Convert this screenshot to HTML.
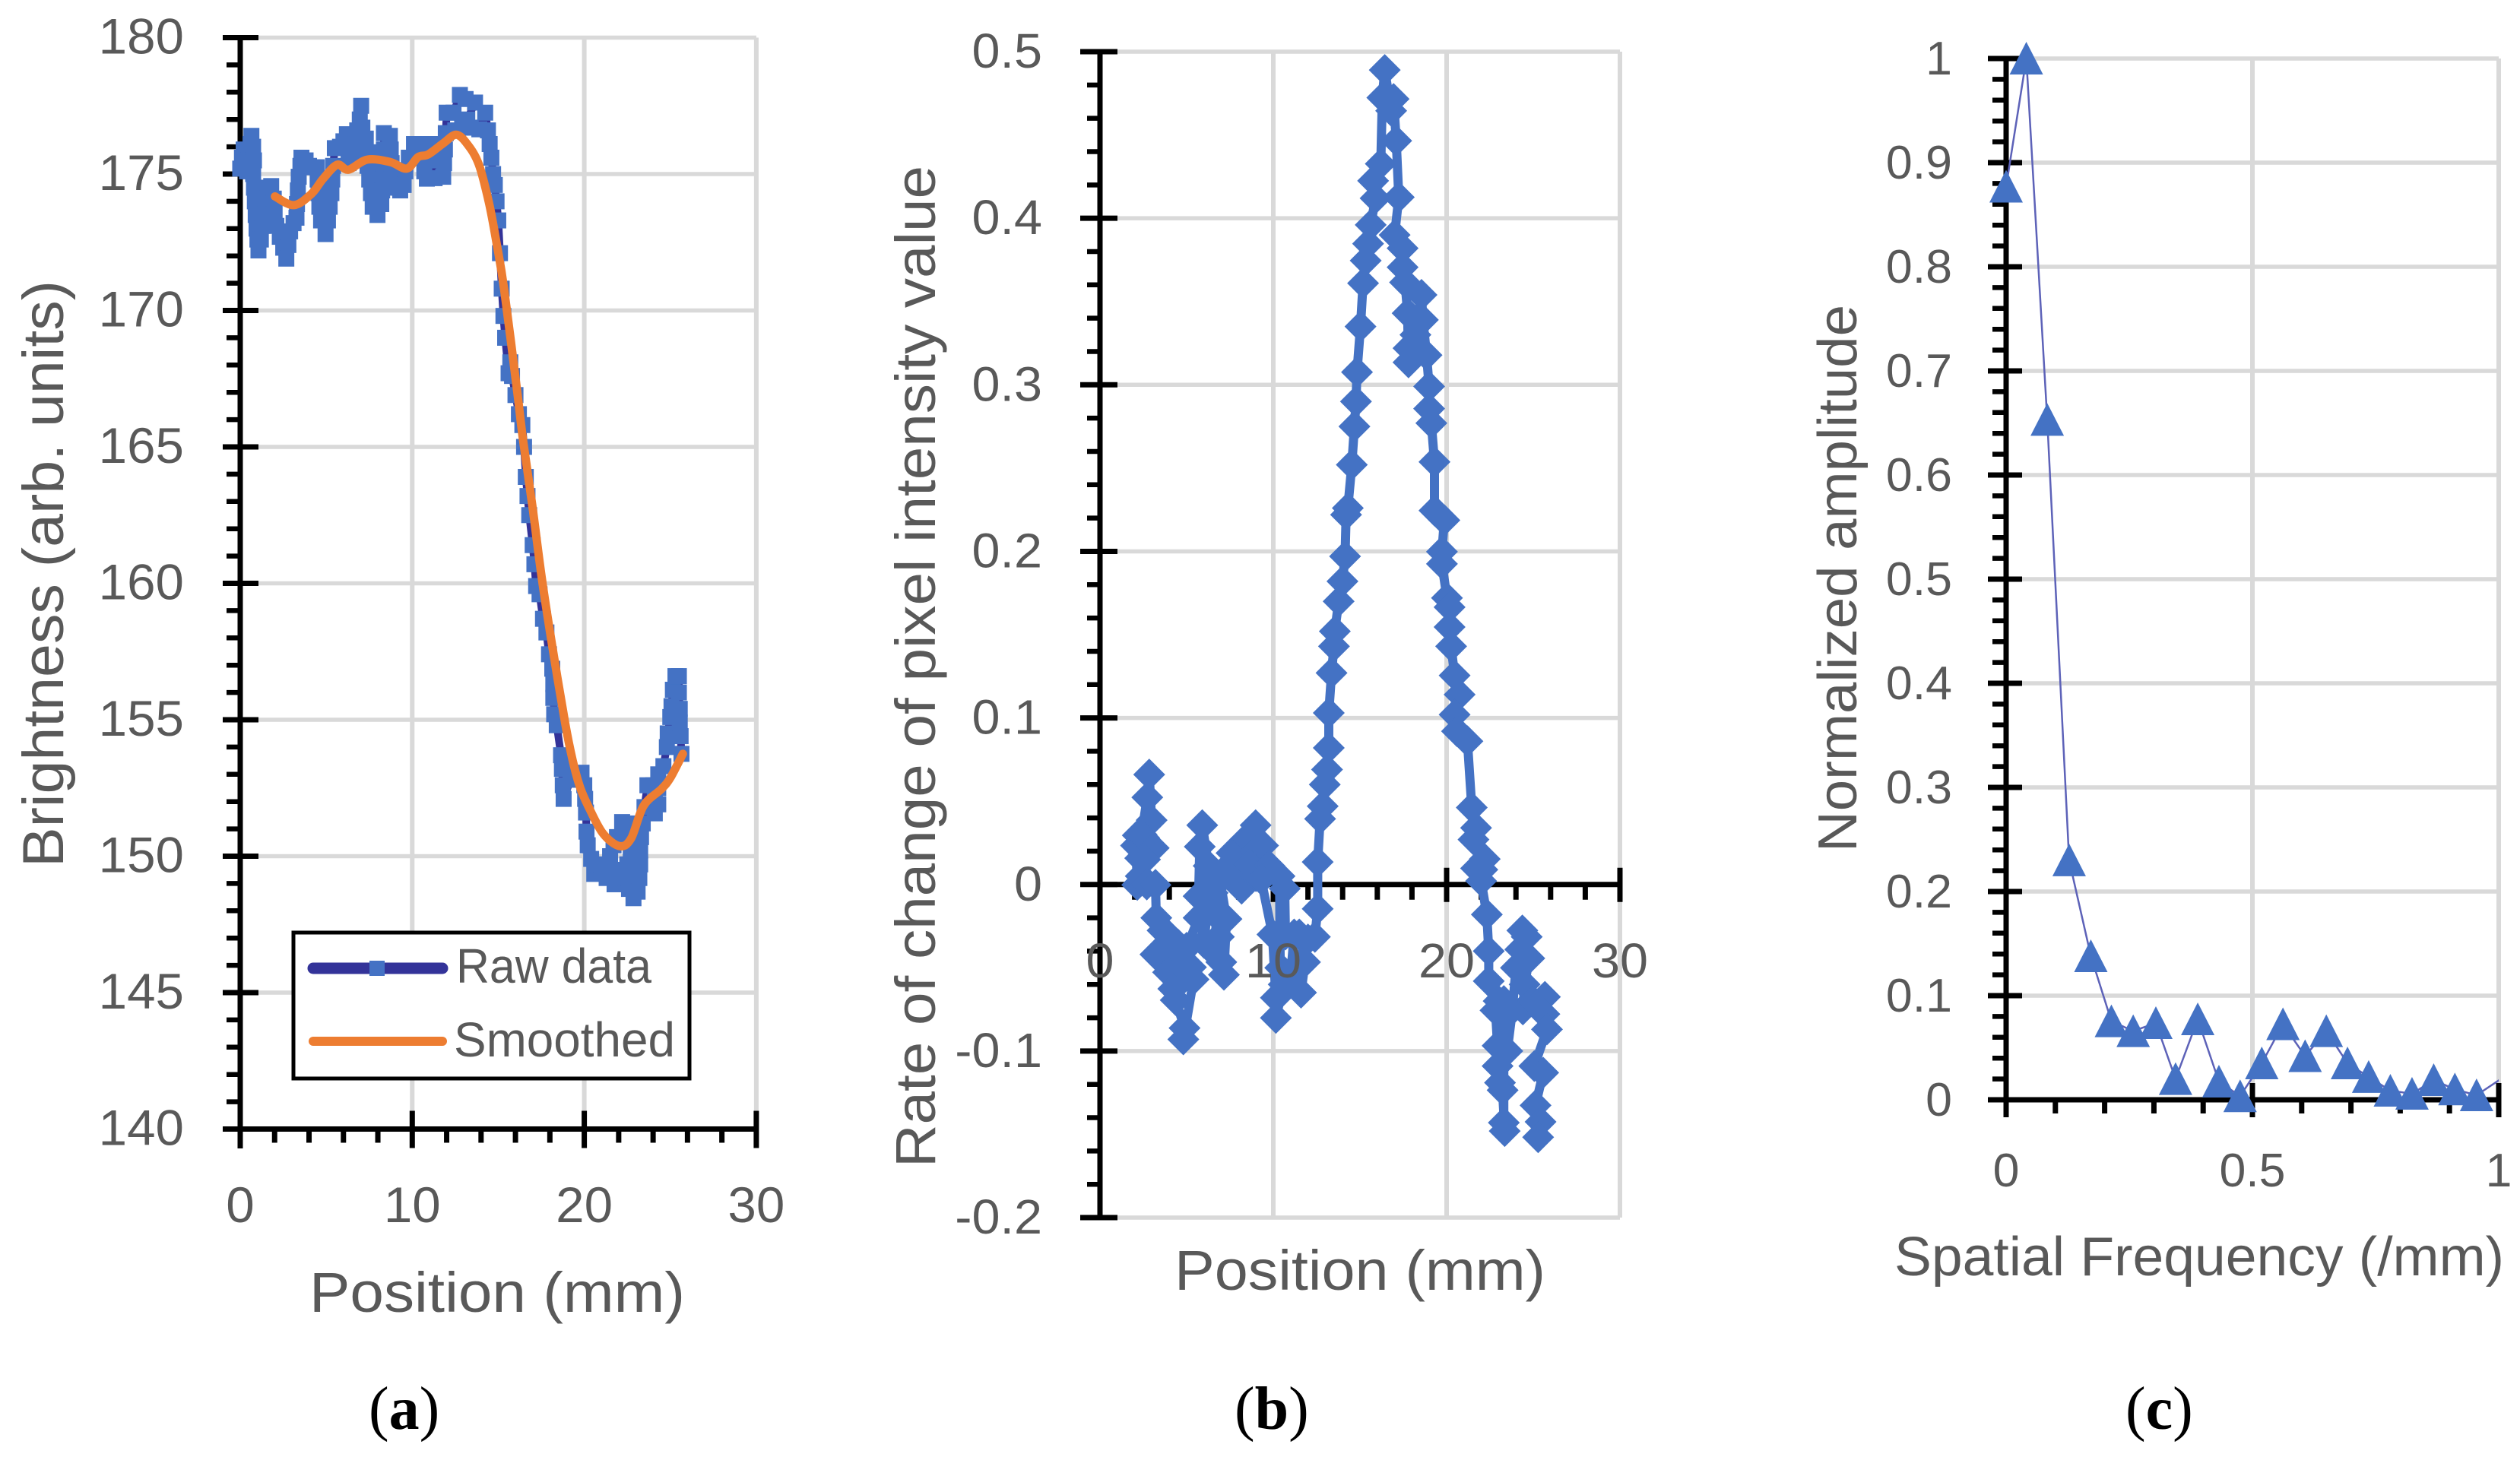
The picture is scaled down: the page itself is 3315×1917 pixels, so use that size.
<!DOCTYPE html>
<html lang="en">
<head>
<meta charset="utf-8">
<title>Brightness, rate of change and spatial frequency charts</title>
<style>
html,body{margin:0;padding:0;background:#fff;}
svg{display:block;}
text{font-family:"Liberation Sans",sans-serif;fill:#595959;}
.cap{font-family:"Liberation Serif",serif;fill:#000;font-size:80px;}
.cap .b{font-weight:bold;}
</style>
</head>
<body>
<svg id="figure" xmlns="http://www.w3.org/2000/svg" width="3315" height="1917" viewBox="0 0 3315 1917">
<rect x="0" y="0" width="3315" height="1917" fill="#fff"/>
<defs><clipPath id="clip-c"><rect x="2600" y="40" width="687" height="1440"/></clipPath></defs>
<g id="chart-a"></g>
<g id="chart-b"></g>
<g id="chart-c"></g>

<text class="title" data-len="772" transform="translate(83,1141) rotate(-90)" font-size="76">Brightness (arb. units)</text>
<text class="title" data-len="494" x="407" y="1726" font-size="74">Position (mm)</text>

<text class="title" data-len="1318" transform="translate(1230,1536) rotate(-90)" font-size="74">Rate of change of pixel intensity value</text>
<text class="title" data-len="488" x="1545" y="1697" font-size="74">Position (mm)</text>

<text class="title" data-len="720" transform="translate(2442,1121) rotate(-90)" font-size="72">Normalized amplitude</text>
<text class="title" data-len="802" x="2492" y="1678" font-size="72">Spatial Frequency (/mm)</text>

<g>
  <rect x="386" y="1227" width="521" height="192" fill="#fff" stroke="#000" stroke-width="5"/>
  <line x1="412" y1="1274" x2="582" y2="1274" stroke="#333399" stroke-width="15" stroke-linecap="round"/>
  <rect x="486" y="1264" width="20" height="20" fill="#4472c4"/>
  <text class="title" data-len="257" x="600" y="1293" font-size="64">Raw data</text>
  <line x1="412" y1="1370" x2="582" y2="1370" stroke="#ed7d31" stroke-width="12" stroke-linecap="round"/>
  <text class="title" data-len="291" x="597" y="1390" font-size="64">Smoothed</text>
</g>

<text class="cap" x="485" y="1880">(<tspan class="b">a</tspan>)</text>
<text class="cap" x="1624" y="1880">(<tspan class="b">b</tspan>)</text>
<text class="cap" x="2796" y="1880">(<tspan class="b">c</tspan>)</text>
</svg>
<script>
/* ---------- Chart (a) data ---------- */
const brightnessXTicks = [0, 10, 20, 30];
const brightnessYTicks = [140, 145, 150, 155, 160, 165, 170, 175, 180];
const rawPositions = [
0,0.1,0.2,0.3,0.4,0.5,0.6,0.65,0.75,0.8,
0.75,0.8,0.85,0.9,0.95,1,1.06,1.2,1.3,1.35,
1.45,1.6,1.8,1.95,2,2.1,2.3,2.5,2.68,2.8,
2.9,3.1,3.27,3.3,3.35,3.4,3.5,3.56,3.8,4,
4.2,4.45,4.5,4.55,4.6,4.7,4.96,5.1,5.2,5.3,
5.35,5.4,5.5,5.8,6,6.2,6.4,6.3,6.6,6.7,
6.8,6.95,7.03,7.1,7.3,7.5,7.4,7.5,7.6,7.7,
7.98,8.2,8.25,8.3,8.3,8.35,8.35,8.7,8.75,8.8,
8.9,9.1,9.3,9.5,9.6,9.8,10.1,10.5,10.6,10.7,
10.85,11.3,11.1,11.08,11.5,11.6,11.8,11.85,11.9,11.95,
12,12.4,12.77,13.1,13.65,13.2,12.5,12.9,13.4,13.9,
14.24,14.4,14.5,14.6,14.7,14.8,14.9,15,15.1,15.2,
15.3,15.4,15.6,15.7,15.8,16,16.2,16.4,16.5,16.6,
16.7,16.8,17,17.1,17.2,17.4,17.6,17.8,17.95,18.14,
18.2,18.2,18.25,18.4,18.65,18.7,18.75,18.8,19.2,19.6,
19.84,20,20.05,20.1,20.13,20.2,20.4,20.58,20.8,21,
21.3,21.76,21.6,21.5,21.7,21.9,22.2,22.5,22.6,22.7,
22.5,22.4,22.6,22.86,23.1,23.2,23.25,23.25,23.3,23.4,
23.5,23.67,24,24.1,24.1,24.3,24.3,24.3,24.6,24.8,
24.85,25,25.07,25.15,25.3,25.5,25.5,25.55,25.55,25.6,
25.65];
const rawBrightness = [
175.2,175.6,175.9,175.5,175.1,175.6,176.1,176.4,176,175.5,
175,174.5,174,173.5,173,172.6,172.2,172.6,173.1,173.6,
174.1,174.5,174.56,174.1,173.6,173.1,172.7,172.3,171.9,172.4,
172.9,173.2,173.4,173.9,174.4,174.9,175.3,175.6,175.5,175.3,
175.25,175.25,174.8,174.3,173.8,173.3,172.8,173.3,173.8,174.3,
174.8,175.3,175.95,176,176.2,176.46,175.9,175.4,175.6,176.1,
176.6,177,177.5,176.7,176.3,175.8,175.3,174.8,174.3,173.8,
173.5,173.9,174.4,174.9,175.4,175.9,176.5,176.4,175.9,175.4,
174.9,174.5,174.4,174.6,175.1,175.6,176.1,176.1,175.6,175.1,
174.83,174.85,175.5,176.1,176.1,175.6,174.9,175.4,175.9,176.5,
177.25,177.25,177.9,177.75,177.62,177,176.6,176.7,176.7,176.64,
177.25,176.6,176.1,175.6,175,174.6,174,173.3,172.1,170.8,
169.8,169,167.7,168.1,167.6,166.9,166.2,165.8,165,163.9,
163.2,162.5,161.4,160.7,159.9,159.6,158.7,158.2,157.4,156.87,
156.3,155.8,155.2,154.8,153.7,153.2,152.6,152.1,152.8,153,
153.06,152.6,152.1,151.6,150.9,150.4,149.9,149.35,149.7,149.4,
149.2,148.97,149.5,150,150.4,150.7,151.25,151.2,150.7,150.2,
149.7,149.2,148.8,148.46,148.7,149.2,149.7,150.2,150.7,151.2,
151.8,152.6,152.6,152.1,151.57,151.9,152.5,153,153.3,154,
154.5,155.1,155.5,156.1,156.6,156.6,156,155.4,154.9,154.4,
153.75];
const smoothPositions = [2.02,3.12,4.15,4.82,5.63,6.29,7.39,8.72,9.68,10.34,10.93,11.81,12.55,13.21,13.87,14.46,14.9,15.34,16.09,16.45,16.97,17.55,18.14,18.88,19.33,19.77,20.28,21.09,22.05,22.72,23.45,24.48,25,25.73];
const smoothBrightness = [174.18,173.86,174.28,174.83,175.34,175.16,175.53,175.44,175.2,175.62,175.72,176.13,176.44,176.09,175.35,173.95,172.47,170.79,167.09,165.2,162.9,160.1,157.7,154.9,153.5,152.5,151.77,150.83,150.37,150.65,151.85,152.46,152.87,153.75];

/* ---------- Chart (b) data ---------- */
const rateXTicks = [0, 10, 20, 30];
const rateYTicks = [-0.2, -0.1, 0, 0.1, 0.2, 0.3, 0.4, 0.5];
const ratePositions = [
2.15,2.08,2.18,2.32,2.4,2.73,2.84,2.98,2.55,3.1,
2.6,2.35,2.7,3.2,3.25,3.61,3.2,3.42,3.7,4,
4.5,4.37,3.93,4.7,5.25,4.23,4.37,4.88,4.81,5.4,
5,5.69,5.69,5.76,5.9,6.27,5.9,6.2,6,6.5,
6.78,6.5,6.86,7,7.15,7.3,6.9,7.59,7.59,7.3,
7.9,8.17,8.47,8.98,9,8.6,9,9.41,9.78,9.3,
9.95,10.15,10.15,10.6,10.4,10.36,10.66,10.7,11.2,11,
11.6,11.83,11.5,12,12.4,12.56,12.56,12.7,12.85,12.97,
13.1,13.2,13.2,13.36,13.5,13.55,13.77,13.99,14.14,14.2,
14.3,14.53,14.68,14.77,14.83,15.03,15.18,15.33,15.47,15.62,
15.9,15.76,16.2,16.29,16.43,16.8,16.94,17.09,17.24,17,
17.46,17.46,17.6,17.75,17.8,17.8,18.2,18.55,18.63,18.84,
18.99,18.99,19.12,19.3,19.3,19.87,19.73,19.73,20.02,20.17,
20.17,20.26,20.46,20.75,20.46,20.6,21.2,21.45,21.7,21.55,
22.2,21.7,22.06,21.99,22.32,22.43,22.43,22.82,22.94,22.94,
23.08,23.23,23.35,23.3,23.3,23,23.5,23.8,24,24.37,
24.62,24.25,24.77,24.5,24.4,25,25.67,25.64,25.79,25.06,
25.57,25.13,25.42,25.28];
const rateValues = [
-0.0002,0.0234,0.0295,0.0158,0.03,0.0523,0.066,0.0386,0.028,0.0219,
0.015,0.005,0,-0.0002,-0.02,-0.0276,-0.042,-0.042,-0.04,-0.031,
-0.036,-0.045,-0.0527,-0.05,-0.0497,-0.0626,-0.0694,-0.0862,-0.093,-0.057,
-0.038,-0.02,-0.007,0.0227,0.0356,0.0112,-0.005,-0.015,-0.035,-0.04,
-0.0192,-0.005,-0.0314,-0.0466,-0.0542,-0.0207,0.005,0.0036,0.0189,0.01,
0.01,-0.0025,0.028,0.0356,0.02,0.012,0.005,0.0234,0.0112,0.003,
-0.03,-0.068,-0.0801,-0.06,-0.05,0.005,-0.0025,-0.03,-0.03,-0.055,
-0.0649,-0.0466,-0.03,-0.033,-0.0314,-0.0146,0.0135,0.0394,0.047,0.06,
0.069,0.082,0.103,0.127,0.143,0.152,0.17,0.182,0.197,0.222,
0.226,0.252,0.275,0.29,0.3076,0.335,0.361,0.3746,0.3847,0.396,
0.412,0.4225,0.4327,0.4724,0.489,0.4645,0.4716,0.4465,0.4126,0.39,
0.382,0.3706,0.3615,0.343,0.3135,0.322,0.33,0.354,0.339,0.3178,
0.299,0.2857,0.277,0.2537,0.2245,0.2187,0.1998,0.1925,0.172,0.1665,
0.1546,0.143,0.1255,0.114,0.102,0.092,0.086,0.0462,0.034,0.027,
0.0153,0.0097,0.0089,0.0021,-0.018,-0.04,-0.058,-0.0756,-0.0968,-0.109,
-0.119,-0.1235,-0.148,-0.143,-0.07,-0.07,-0.1,-0.075,-0.05,-0.0276,
-0.0314,-0.039,-0.0443,-0.06,-0.075,-0.07,-0.0675,-0.0778,-0.087,-0.109,
-0.113,-0.1326,-0.1425,-0.1517];

/* ---------- Chart (c) data ---------- */
const freqXTicks = [0, 0.5, 1];
const ampYTicks = [0, 0.1, 0.2, 0.3, 0.4, 0.5, 0.6, 0.7, 0.8, 0.9, 1];
const frequencies = [0,0.041,0.0835,0.128,0.172,0.2137,0.258,0.304,0.344,0.389,0.432,0.475,0.519,0.562,0.607,0.65,0.693,0.736,0.78,0.824,0.868,0.911,0.955,1.02];
const amplitudes = [0.877,1,0.653,0.23,0.138,0.0755,0.066,0.0737,0.02,0.0774,0.0175,0.0035,0.035,0.0726,0.042,0.066,0.035,0.022,0.0088,0.0058,0.019,0.01,0.0044,0.025];

/* ---------- Axis functions ---------- */
const ax = v => 316 + v * 22.63;
const ay = v => 49.5 + (180 - v) * 35.9;
const bx = v => 1447 + v * 22.8;
const by = v => 68 + (0.5 - v) * 2191.5;
const cx = v => 2639 + v * 648;
const cy = v => 1447 - v * 1370;

const NS = 'http://www.w3.org/2000/svg';
function mk(tag, attrs, parent) {
  const el = document.createElementNS(NS, tag);
  for (const k in attrs) el.setAttribute(k, attrs[k]);
  parent.appendChild(el);
  return el;
}
function fitLabel(el, k) {
  const w = el.getComputedTextLength();
  el.setAttribute('textLength', (w * k).toFixed(1));
  el.setAttribute('lengthAdjust', 'spacingAndGlyphs');
}
function drawFrame(g, o) {
  const x0 = o.x(o.xTicks[0]), xN = o.x(o.xTicks[o.xTicks.length - 1]);
  const yTop = o.y(o.yTicks[o.yTicks.length - 1]), yBot = o.y(o.yTicks[0]), yAxis = o.y(o.xAxisAt);
  /* gridlines */
  o.xTicks.slice(1).forEach(t => {
    const l = mk('line', {x1: o.x(t), x2: o.x(t), y1: yTop, y2: yBot, stroke: '#d9d9d9', 'stroke-width': 6}, g);
    
    
  });
  o.yTicks.forEach(t => {
    if (t === o.xAxisAt) return;
    const l = mk('line', {x1: x0, x2: xN, y1: o.y(t), y2: o.y(t), stroke: '#d9d9d9', 'stroke-width': 5.5}, g);
    
    
  });
  /* y axis */
  const ya = mk('line', {x1: x0, x2: x0, y1: yTop - 3, y2: o.yAxisEnd, stroke: '#000', 'stroke-width': 7}, g);
  
  
  /* x axis */
  const xa = mk('line', {x1: x0, x2: xN + 3, y1: yAxis, y2: yAxis, stroke: '#000', 'stroke-width': 7}, g);
  
  
  /* y ticks */
  o.yTicks.forEach((t, i) => {
    const m = mk('line', {x1: x0 - o.yMajorOut, x2: x0 + o.yMajorIn, y1: o.y(t), y2: o.y(t), stroke: '#000', 'stroke-width': 7}, g);
    
    
    if (i === o.yTicks.length - 1) return;
    for (let s = 1; s < 5; s++) {
      const v = t + (o.yTicks[i + 1] - t) * s / 5;
      const n = mk('line', {x1: x0 - o.yMinorOut, x2: x0, y1: o.y(v), y2: o.y(v), stroke: '#000', 'stroke-width': 6.5}, g);
      
      
    }
  });
  /* x ticks */
  o.xTicks.forEach((t, i) => {
    const up = i === 0 ? 0 : o.xMajorUp;
    const m = mk('line', {x1: o.x(t), x2: o.x(t), y1: yAxis - up, y2: yAxis + o.xMajorDown, stroke: '#000', 'stroke-width': 7}, g);
    
    
    if (i === o.xTicks.length - 1) return;
    for (let s = 1; s < o.xDiv; s++) {
      const v = t + (o.xTicks[i + 1] - t) * s / o.xDiv;
      const n = mk('line', {x1: o.x(v), x2: o.x(v), y1: yAxis, y2: yAxis + o.xMinorDown, stroke: '#000', 'stroke-width': 7}, g);
      
      
    }
  });
}
function drawTickLabels(g, o) {
  o.yTicks.forEach(t => {
    const el = mk('text', {x: o.yLabelX, y: o.y(t) + o.yLabelDy, 'text-anchor': 'end', 'font-size': o.size}, g);
    el.textContent = String(t);
    
    
    fitLabel(el, o.k);
  });
  o.xTicks.forEach(t => {
    const el = mk('text', {x: o.x(t), y: o.xLabelY, 'text-anchor': 'middle', 'font-size': o.size}, g);
    el.textContent = String(t);
    
    
    fitLabel(el, o.k);
  });
}
function smoothPath(px, py) {
  let d = 'M' + px[0].toFixed(1) + ' ' + py[0].toFixed(1);
  for (let i = 0; i < px.length - 1; i++) {
    const a = Math.max(i - 1, 0), b = Math.min(i + 2, px.length - 1);
    const c1x = px[i] + (px[i + 1] - px[a]) / 6, c1y = py[i] + (py[i + 1] - py[a]) / 6;
    const c2x = px[i + 1] - (px[b] - px[i]) / 6, c2y = py[i + 1] - (py[b] - py[i]) / 6;
    d += 'C' + [c1x, c1y, c2x, c2y, px[i + 1], py[i + 1]].map(n => n.toFixed(1)).join(' ');
  }
  return d;
}

/* ---------- Chart (a) ---------- */
(function () {
  const g = document.getElementById('chart-a');
  const o = {x: ax, y: ay, xTicks: brightnessXTicks, yTicks: brightnessYTicks, xAxisAt: 140, yAxisEnd: 1511,
    yMajorOut: 23, yMajorIn: 24, yMinorOut: 18, xMajorUp: 24, xMajorDown: 25, xMinorDown: 18, xDiv: 5,
    yLabelX: 242, yLabelDy: 21, xLabelY: 1608, size: 66, k: 1.02};
  drawFrame(g, o);
  const pts = rawPositions.map((p, i) => ax(p).toFixed(1) + ',' + ay(rawBrightness[i]).toFixed(1)).join(' ');
  const raw = mk('polyline', {points: pts, fill: 'none', stroke: '#333399', 'stroke-width': 10, 'stroke-linejoin': 'round'}, g);
  
  
  rawPositions.forEach((p, i) => {
    const m = mk('rect', {x: ax(p) - 10.5, y: ay(rawBrightness[i]) - 10.5, width: 21, height: 21, fill: '#4472c4'}, g);
    
    
  });
  const sm = mk('path', {d: smoothPath(smoothPositions.map(ax), smoothBrightness.map(ay)), fill: 'none', stroke: '#ed7d31', 'stroke-width': 11, 'stroke-linecap': 'round', 'stroke-linejoin': 'round'}, g);
  
  
  drawTickLabels(g, o);
})();

/* ---------- Chart (b) ---------- */
(function () {
  const g = document.getElementById('chart-b');
  const o = {x: bx, y: by, xTicks: rateXTicks, yTicks: rateYTicks, xAxisAt: 0, yAxisEnd: by(-0.2) + 3,
    yMajorOut: 26, yMajorIn: 23, yMinorOut: 17, xMajorUp: 22, xMajorDown: 23, xMinorDown: 20, xDiv: 5,
    yLabelX: 1371, yLabelDy: 21, xLabelY: 1286, size: 64, k: 1.04};
  drawFrame(g, o);
  const pts = ratePositions.map((p, i) => bx(p).toFixed(1) + ',' + by(rateValues[i]).toFixed(1)).join(' ');
  const line = mk('polyline', {points: pts, fill: 'none', stroke: '#4472c4', 'stroke-width': 12, 'stroke-linejoin': 'round'}, g);
  
  
  ratePositions.forEach((p, i) => {
    const px = bx(p), py = by(rateValues[i]);
    const m = mk('polygon', {points: [px, py - 21, px + 21, py, px, py + 21, px - 21, py].join(' '), fill: '#4472c4'}, g);
    
    
  });
  drawTickLabels(g, o);
})();

/* ---------- Chart (c) ---------- */
(function () {
  const g = document.getElementById('chart-c');
  const o = {x: cx, y: cy, xTicks: freqXTicks, yTicks: ampYTicks, xAxisAt: 0, yAxisEnd: 1470,
    yMajorOut: 24, yMajorIn: 21, yMinorOut: 18, xMajorUp: 22, xMajorDown: 23, xMinorDown: 18, xDiv: 5,
    yLabelX: 2568, yLabelDy: 21, xLabelY: 1561, size: 62, k: 1.01};
  drawFrame(g, o);
  const pts = frequencies.map((p, i) => cx(p).toFixed(1) + ',' + cy(amplitudes[i]).toFixed(1)).join(' ');
  const line = mk('polyline', {points: pts, fill: 'none', stroke: '#5d62b8', 'stroke-width': 2.5, 'clip-path': 'url(#clip-c)'}, g);
  
  
  frequencies.forEach((p, i) => {
    if (p > 1) return;
    const px = cx(p), py = cy(amplitudes[i]);
    const m = mk('polygon', {points: [px, py - 22, px + 22, py + 21, px - 22, py + 21].join(' '), fill: '#4472c4'}, g);
    
    
  });
  drawTickLabels(g, o);
})();

/* ---------- Fit titles to measured lengths ---------- */
document.querySelectorAll('text.title').forEach(t => {
  t.setAttribute('textLength', t.getAttribute('data-len'));
  t.setAttribute('lengthAdjust', 'spacingAndGlyphs');
});
</script>
</body>
</html>
